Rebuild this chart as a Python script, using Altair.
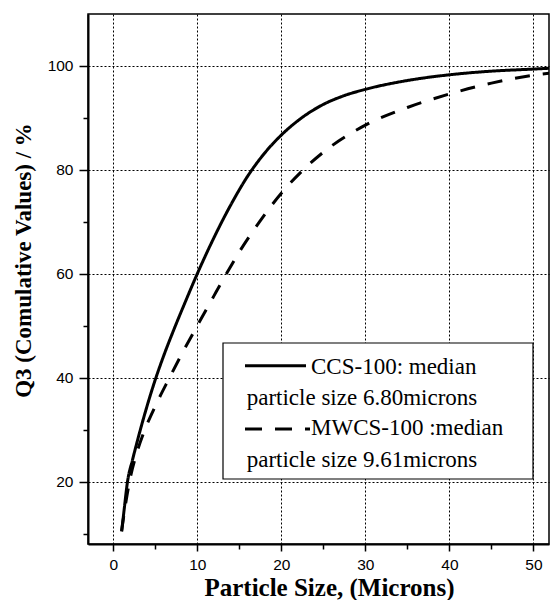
import altair as alt
import pandas as pd

# Solid curve: CCS-100
ccs_x = [1, 1.3, 1.7, 2.3, 2.9, 4, 5, 6, 7.3, 8.5, 10, 12, 14, 16, 18, 20, 22, 25, 27.5, 30, 35, 40, 45, 50, 53]
ccs_y = [10.4, 14.6, 20, 24.2, 28, 34.4, 39.6, 44.2, 49.6, 54.3, 60, 67, 73.3, 78.8, 83.2, 86.7, 89.5, 92.6, 94.3, 95.5, 97.2, 98.3, 99, 99.4, 99.65]

# Dashed curve: MWCS-100
mwcs_x = [1, 1.5, 2, 2.8, 3.6, 5, 6.7, 8.3, 10, 12, 13.4, 15, 17.4, 20, 22.8, 25, 30, 35, 40, 45, 50, 53]
mwcs_y = [10.5, 16, 20.5, 25.5, 29.3, 34.5, 40, 45, 50, 55.8, 59.8, 64.2, 70, 75.5, 80.3, 83.4, 88.6, 92, 94.6, 96.7, 98.2, 98.8]

series_names = ["CCS-100", "MWCS-100"]
legend_lines = ["CCS-100: median", "particle size 6.80microns",
                "MWCS-100 :median", "particle size 9.61microns"]

x_ticks = list(range(0, 55, 5))
y_ticks = list(range(10, 110, 10))

SERIF = "Liberation Serif"
SANS = "Liberation Sans"

df = pd.concat([
    pd.DataFrame({"x": ccs_x, "y": ccs_y, "s": series_names[0]}),
    pd.DataFrame({"x": mwcs_x, "y": mwcs_y, "s": series_names[1]}),
])

one = pd.DataFrame({"k": [0]})

x_axis = alt.Axis(
    values=x_ticks,
    labelExpr="datum.value % 10 == 0 ? datum.label : ''",
    tickSize={"condition": {"test": "datum.value % 10 == 0", "value": 7}, "value": 5},
    grid=True,
    gridOpacity={"condition": {"test": "datum.value % 10 == 0", "value": 1}, "value": 0},
    gridDash=[2, 2], gridColor="black", gridWidth=1,
    domainColor="black", domainWidth=2,
    tickColor="black", tickWidth=1.5,
    labelFont=SANS, labelFontSize=15.5, labelColor="black",
    labelPadding=6, labelFlush=False,
    title="Particle Size, (Microns)",
    titleFont=SERIF, titleFontWeight="bold", titleFontSize=25,
    titleColor="black",
    titleX=241, titleY=51.5, titleAlign="center", titleBaseline="alphabetic", titleAngle=0,
)

y_axis = alt.Axis(
    values=y_ticks,
    labelExpr="datum.value % 20 == 0 ? datum.label : ''",
    tickSize={"condition": {"test": "datum.value % 20 == 0", "value": 9}, "value": 5},
    grid=True,
    gridOpacity={"condition": {"test": "datum.value % 20 == 0", "value": 1}, "value": 0},
    gridDash=[2, 2], gridColor="black", gridWidth=1,
    domainColor="black", domainWidth=2,
    tickColor="black", tickWidth=1.5,
    labelFont=SANS, labelFontSize=15.5, labelColor="black",
    labelPadding=6, labelFlush=False,
    title="Q3 (Comulative Values) / %",
    titleFont=SERIF, titleFontWeight="bold", titleFontSize=23,
    titleColor="black",
    titleX=-58, titleY=246, titleAlign="center", titleBaseline="alphabetic", titleAngle=270,
)

lines = alt.Chart(df).mark_line(clip=True, strokeWidth=3, color="black", interpolate="monotone").encode(
    x=alt.X("x:Q", scale=alt.Scale(domain=[-3, 51.85], nice=False, zero=False), axis=x_axis),
    y=alt.Y("y:Q", scale=alt.Scale(domain=[8, 110], nice=False, zero=False), axis=y_axis),
    strokeDash=alt.StrokeDash("s:N", scale=alt.Scale(domain=series_names, range=[[1, 0], [15, 13]]), legend=None),
    detail="s:N",
)

box = alt.Chart(one).mark_rect(fill="white", stroke="black", strokeWidth=1.2).encode(
    x=alt.value(135), x2=alt.value(445), y=alt.value(329), y2=alt.value(465)
)

sample_solid = alt.Chart(one).mark_rule(color="black", strokeWidth=3).encode(
    x=alt.value(157), x2=alt.value(218), y=alt.value(351.7)
)
sample_dash = alt.Chart(one).mark_rule(color="black", strokeWidth=3, strokeDash=[17, 13]).encode(
    x=alt.value(157), x2=alt.value(222), y=alt.value(415)
)

def txt(i, x, y):
    return alt.Chart(one).mark_text(text=legend_lines[i], font=SERIF, fontSize=23, color="black",
                                    align="left", baseline="alphabetic").encode(x=alt.value(x), y=alt.value(y))

t1 = txt(0, 223, 360)
t2 = txt(1, 158.7, 391)
t3 = txt(2, 223, 421)
t4 = txt(3, 158.7, 452.7)

chart = alt.layer(lines, box, sample_solid, sample_dash, t1, t2, t3, t4).properties(
    width=461, height=530,
    autosize=alt.AutoSizeParams(type="none"),
    padding={"left": 80, "top": 6, "right": 1, "bottom": 56},
).configure_view(stroke="black", strokeWidth=1.5)

chart.save("out.html", embed_options={"renderer": "svg", "actions": False})
